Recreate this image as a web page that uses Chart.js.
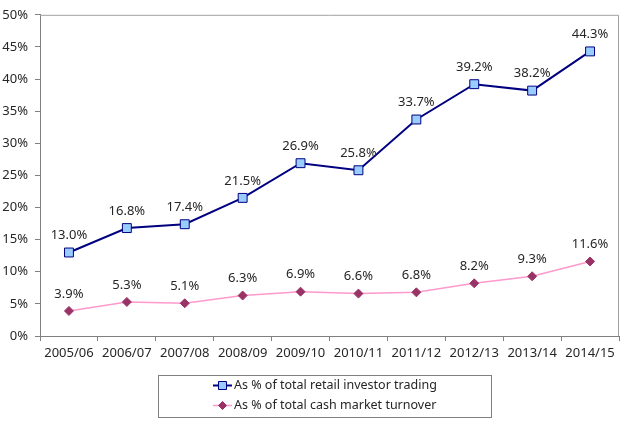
<!DOCTYPE html>
<html>
<head>
<meta charset="utf-8">
<script src="https://cdn.jsdelivr.net/npm/chart.js@4/dist/chart.umd.min.js"></script>
<style>
html,body{margin:0;padding:0;background:#fff;}
#wrap{width:630px;height:426px;position:relative;}
</style>
</head>
<body>
<div id="wrap"><canvas id="c" width="630" height="426"></canvas></div>
<script>
const categories = ['2005/06','2006/07','2007/08','2008/09','2009/10','2010/11','2011/12','2012/13','2013/14','2014/15'];
const retailShare = [13.0,16.8,17.4,21.5,26.9,25.8,33.7,39.2,38.2,44.3];
const cashShare = [3.9,5.3,5.1,6.3,6.9,6.6,6.8,8.2,9.3,11.6];
const seriesNames = ['As % of total retail investor trading','As % of total cash market turnover'];
const yTicks = [0,5,10,15,20,25,30,35,40,45,50];

const FONT = '"Noto Sans", "DejaVu Sans", sans-serif';
const TXT = '#262626';

const labelsPlugin = {
  id: 'valueLabels',
  afterDatasetsDraw(chart) {
    const ctx = chart.ctx;
    ctx.save();
    ctx.font = '13px ' + FONT;
    ctx.fillStyle = TXT;
    ctx.textAlign = 'center';
    ctx.textBaseline = 'middle';
    chart.data.datasets.forEach((ds, di) => {
      const meta = chart.getDatasetMeta(di);
      meta.data.forEach((pt, i) => {
        ctx.fillText(ds.data[i].toFixed(1) + '%', pt.x, pt.y - 17);
      });
    });
    ctx.restore();
  }
};

const framePlugin = {
  id: 'frame',
  beforeDatasetsDraw(chart) {
    const a = chart.chartArea, ctx = chart.ctx;
    ctx.save();
    ctx.strokeStyle = '#a0a0a0';
    ctx.lineWidth = 1;
    ctx.beginPath();
    ctx.moveTo(a.left, a.top + 0.5);
    ctx.lineTo(a.right - 0.5, a.top + 0.5);
    ctx.lineTo(a.right - 0.5, a.bottom);
    ctx.stroke();
    ctx.restore();
  }
};

const legendPlugin = {
  id: 'boxLegend',
  afterDraw(chart) {
    const ctx = chart.ctx;
    const bx = 158.5, by = 375.5, bw = 333, bh = 42;
    ctx.save();
    ctx.fillStyle = '#ffffff';
    ctx.strokeStyle = '#808080';
    ctx.lineWidth = 1;
    ctx.fillRect(bx, by, bw, bh);
    ctx.strokeRect(bx, by, bw, bh);
    ctx.font = '12.5px ' + FONT;
    ctx.textBaseline = 'middle';
    ctx.textAlign = 'left';
    const rows = [385.5, 405.5];
    chart.data.datasets.forEach((ds, di) => {
      const y = rows[di];
      ctx.strokeStyle = ds.borderColor;
      ctx.lineWidth = ds.borderWidth;
      ctx.beginPath();
      ctx.moveTo(213, y);
      ctx.lineTo(232, y);
      ctx.stroke();
      ctx.fillStyle = ds.pointBackgroundColor;
      ctx.strokeStyle = ds.pointBorderColor;
      ctx.lineWidth = 1;
      ctx.beginPath();
      if (ds.pointStyle === 'rect') {
        ctx.rect(218.5, y - 4, 8, 8);
      } else {
        ctx.moveTo(222.5, y - 4); ctx.lineTo(226.5, y); ctx.lineTo(222.5, y + 4); ctx.lineTo(218.5, y);
        ctx.closePath();
      }
      ctx.fill(); ctx.stroke();
      ctx.fillStyle = TXT;
      ctx.fillText(seriesNames[di], 234, y);
    });
    ctx.restore();
  }
};

new Chart(document.getElementById('c'), {
  type: 'line',
  data: {
    labels: categories,
    datasets: [
      {
        label: seriesNames[0],
        data: retailShare,
        borderColor: '#000080',
        borderWidth: 2,
        pointStyle: 'rect',
        pointRadius: 6.3,
        pointBackgroundColor: '#99ccff',
        pointBorderColor: '#000080',
        pointBorderWidth: 1,
        tension: 0,
        fill: false
      },
      {
        label: seriesNames[1],
        data: cashShare,
        borderColor: '#ff99cc',
        borderWidth: 1.5,
        pointStyle: 'rectRot',
        pointRadius: 4.5,
        pointBackgroundColor: '#993366',
        pointBorderColor: '#993366',
        pointBorderWidth: 1,
        tension: 0,
        fill: false
      }
    ]
  },
  options: {
    responsive: false,
    animation: false,
    devicePixelRatio: 1,
    layout: { padding: { top: 13, right: 11, bottom: 0, left: 0 } },
    plugins: { legend: { display: false }, tooltip: { enabled: false } },
    scales: {
      x: {
        type: 'category',
        offset: true,
        afterFit(s) { s.height = 90; },
        grid: { offset: true, drawOnChartArea: false, drawTicks: true, tickLength: 5, color: '#808080' },
        border: { color: '#808080', width: 1 },
        ticks: { color: TXT, font: { family: FONT, size: 13 }, padding: 4, maxRotation: 0, autoSkip: false }
      },
      y: {
        min: 0, max: 50,
        afterFit(s) { s.width = 40; },
        afterBuildTicks(s) { s.ticks = yTicks.map(v => ({ value: v })); },
        grid: { drawOnChartArea: false, drawTicks: true, tickLength: 5, color: '#808080' },
        border: { color: '#808080', width: 1 },
        ticks: { color: TXT, font: { family: FONT, size: 13 }, padding: 7, callback: v => v + '%' }
      }
    }
  },
  plugins: [framePlugin, labelsPlugin, legendPlugin]
});
</script>
</body>
</html>
